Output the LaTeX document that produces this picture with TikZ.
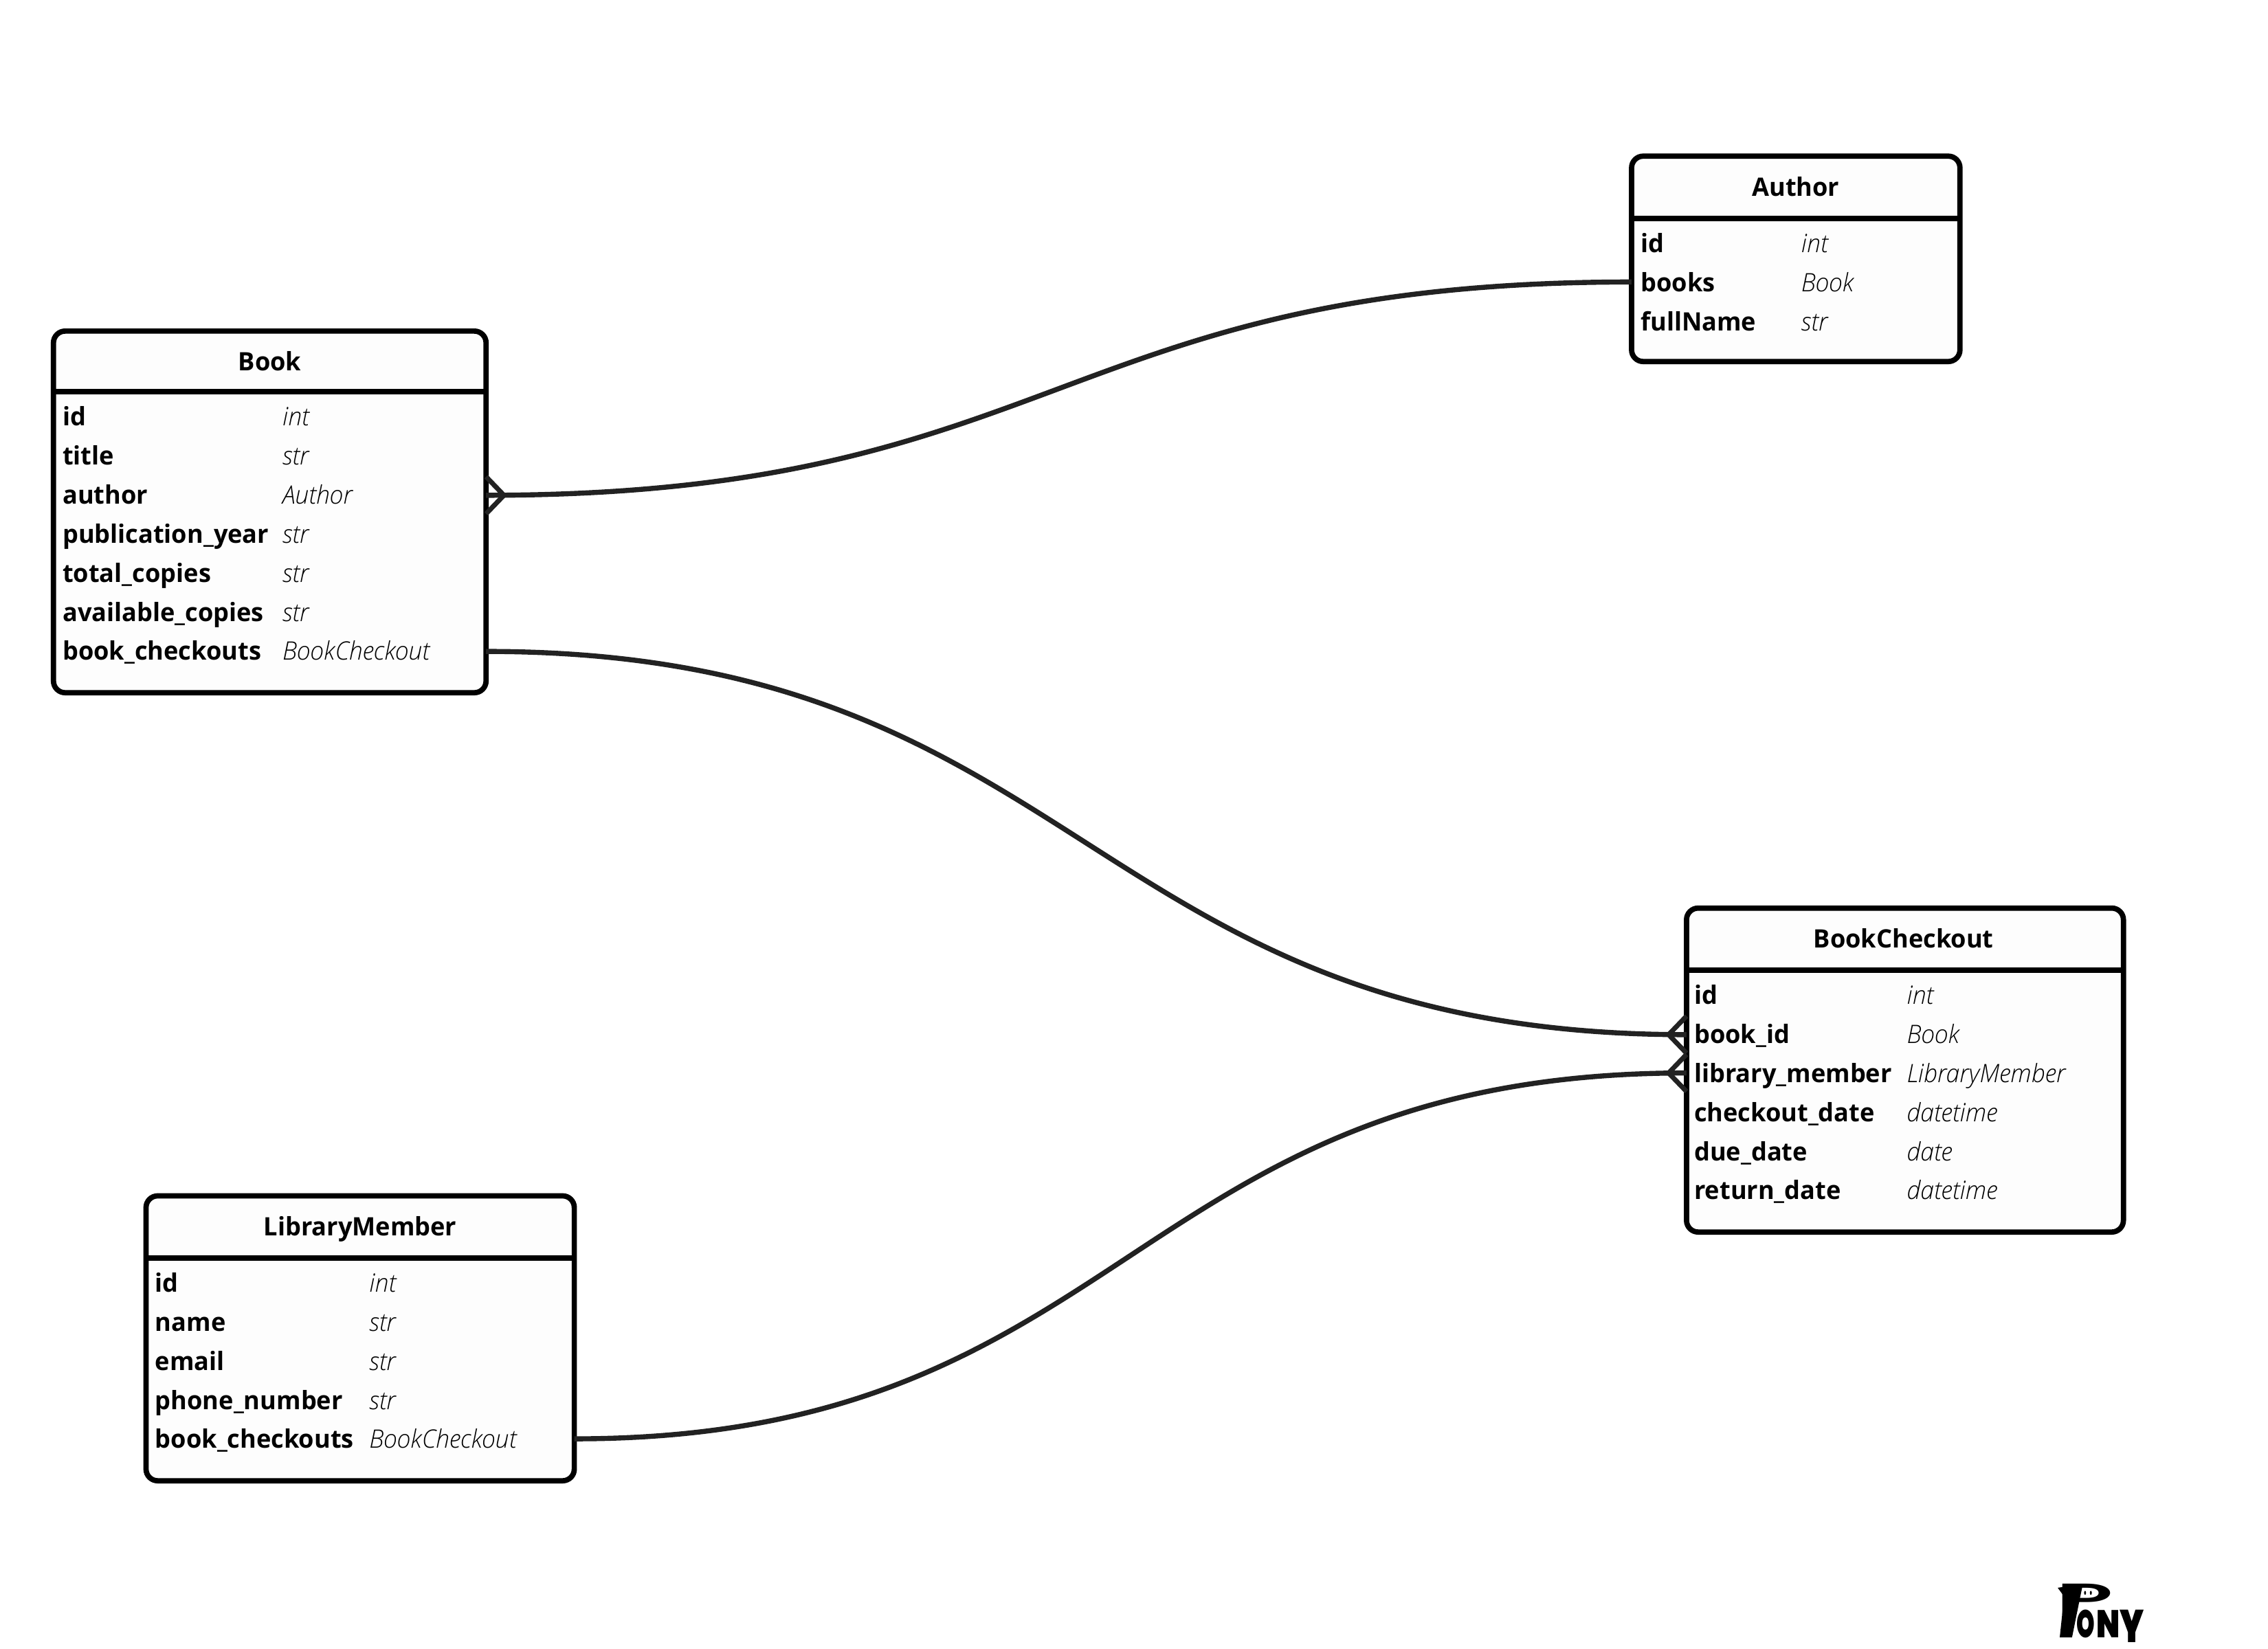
\documentclass[tikz,border=0pt]{standalone}
\usepackage{fontspec}
\setmainfont{Noto Sans}[FakeStretch=0.93]
\newfontfamily\namefont{Open Sans}[FakeStretch=0.98]
\newfontfamily\typefont{Open Sans}[UprightFont=* Light Italic,FakeStretch=0.965]
\newfontfamily\logofont{Poppins}[UprightFont=* Black,BoldFont=* Black]
\newfontfamily\logopfont{Poppins}[UprightFont=* Medium]
\definecolor{boxfill}{HTML}{FDFDFD}
\definecolor{linkcol}{HTML}{222222}
\tikzset{
  tablebox/.style={draw=black,fill=boxfill,line width=2.2pt,rounded corners=0.17cm,rectangle,inner sep=0pt,outer sep=0pt},
  headrule/.style={draw=black,line width=2.2pt},
  titletext/.style={font=\fontsize{10.5}{13}\namefont\bfseries,anchor=base,inner sep=0pt},
  fieldname/.style={font=\fontsize{10.5}{13}\namefont\bfseries,anchor=base west,inner sep=0pt,yshift=-0.012cm},
  fieldtype/.style={font=\fontsize{10.5}{13}\typefont,anchor=base west,inner sep=0pt,yshift=-0.012cm},
  link/.style={draw=linkcol,line width=2.1pt},
  crow/.style={draw=linkcol,line width=2pt},
  logoletter/.style={inner sep=0pt,anchor=base west,transform shape},
}
\begin{document}
\begin{tikzpicture}[x=0.021046cm,y=-0.021046cm]
\useasboundingbox (0,0) rectangle (1568,1140);

% boxes
\node[tablebox,minimum width=4.777cm,minimum height=2.989cm] (author) at (1241.5,179) {};
\node[tablebox,minimum width=6.293cm,minimum height=5.262cm] (book) at (186.5,354) {};
\node[tablebox,minimum width=6.356cm,minimum height=4.714cm] (checkout) at (1317,740) {};
\node[tablebox,minimum width=6.230cm,minimum height=4.146cm] (member) at (249,925.5) {};

% header rules
\draw[headrule] (author.west |- 0,151) -- (author.east |- 0,151);
\draw[headrule] (book.west |- 0,271) -- (book.east |- 0,271);
\draw[headrule] (checkout.west |- 0,671) -- (checkout.east |- 0,671);
\draw[headrule] (member.west |- 0,870) -- (member.east |- 0,870);

% Author
\node[titletext] (authortitle) at (1241.5,135.5) {Author};
\node[fieldname] (aid) at (1134,174) {id};
\node[fieldtype] (aidt) at (1245,174) {int};
\node[fieldname] (abooks) at (1134,201) {books};
\node[fieldtype] (abookst) at (1245,201) {Book};
\node[fieldname] (afull) at (1134,228) {fullName};
\node[fieldtype] (afullt) at (1245,228) {str};

% Book
\node[titletext] (booktitle) at (186.5,256.5) {Book};
\node[fieldname] (bid) at (43,294) {id};
\node[fieldtype] (bidt) at (195,294) {int};
\node[fieldname] (btitle) at (43,321) {title};
\node[fieldtype] (btitlet) at (195,321) {str};
\node[fieldname] (bauthor) at (43,348) {author};
\node[fieldtype] (bauthort) at (195,348) {Author};
\node[fieldname] (byear) at (43,375) {publication\_year};
\node[fieldtype] (byeart) at (195,375) {str};
\node[fieldname] (btotal) at (43,402) {total\_copies};
\node[fieldtype] (btotalt) at (195,402) {str};
\node[fieldname] (bavail) at (43,429) {available\_copies};
\node[fieldtype] (bavailt) at (195,429) {str};
\node[fieldname] (bcheck) at (43,456) {book\_checkouts};
\node[fieldtype] (bcheckt) at (195,456) {BookCheckout};

% BookCheckout
\node[titletext] (checktitle) at (1316,655.5) {BookCheckout};
\node[fieldname] (cid) at (1171,694) {id};
\node[fieldtype] (cidt) at (1318,694) {int};
\node[fieldname] (cbook) at (1171,721) {book\_id};
\node[fieldtype] (cbookt) at (1318,721) {Book};
\node[fieldname] (cmember) at (1171,748) {library\_member};
\node[fieldtype] (cmembert) at (1318,748) {LibraryMember};
\node[fieldname] (cdate) at (1171,775) {checkout\_date};
\node[fieldtype] (cdatet) at (1318,775) {datetime};
\node[fieldname] (cdue) at (1171,802) {due\_date};
\node[fieldtype] (cduet) at (1318,802) {date};
\node[fieldname] (creturn) at (1171,829) {return\_date};
\node[fieldtype] (creturnt) at (1318,829) {datetime};

% LibraryMember
\node[titletext] (membertitle) at (249,854.5) {LibraryMember};
\node[fieldname] (mid) at (107,893) {id};
\node[fieldtype] (midt) at (255,893) {int};
\node[fieldname] (mname) at (107,920) {name};
\node[fieldtype] (mnamet) at (255,920) {str};
\node[fieldname] (memail) at (107,947) {email};
\node[fieldtype] (memailt) at (255,947) {str};
\node[fieldname] (mphone) at (107,974) {phone\_number};
\node[fieldtype] (mphonet) at (255,974) {str};
\node[fieldname] (mcheck) at (107,1001) {book\_checkouts};
\node[fieldtype] (mcheckt) at (255,1001) {BookCheckout};

% link end points
\coordinate (la) at (book.east |- 0,342.5);
\coordinate (lb) at (author.west |- 0,195);
\coordinate (lc) at (book.east |- 0,450.5);
\coordinate (ld) at (checkout.west |- 0,715.5);
\coordinate (le) at (member.east |- 0,995);
\coordinate (lf) at (checkout.west |- 0,742);

% links
\draw[link] (la) .. controls (732,342.5) and (732,195) .. (lb);
\draw[link] (lc) .. controls (751,450.5) and (751,715.5) .. (ld);
\draw[link] (le) .. controls (781,995) and (781,742) .. (lf);

% crow's feet
\draw[crow] ([yshift=-0.27cm]la) -- ([xshift=0.26cm]la) -- ([yshift=0.27cm]la);
\draw[crow] ([yshift=-0.27cm]ld) -- ([xshift=-0.26cm]ld) -- ([yshift=0.27cm]ld);
\draw[crow] ([yshift=-0.27cm]lf) -- ([xshift=-0.26cm]lf) -- ([yshift=0.27cm]lf);

% logo
\node[logoletter,font=\logopfont\fontsize{18.5}{19}\selectfont,xscale=2.2] (logop) at (1420,1116.6) {P};
\fill (1422.6,1098) -- (1440,1095.5) -- (1438,1105) -- (1432.5,1132.3) -- (1424,1132.3) -- (1427,1104) -- cycle;
\node[logoletter,font=\logofont\fontsize{16}{16}\selectfont,xscale=0.6] (logoo) at (1435.5,1132.3) {O};
\node[logoletter,font=\logofont\fontsize{16}{16}\selectfont,xscale=0.78] (logon) at (1449,1132.3) {N};
\node[logoletter,font=\logofont\fontsize{19}{19}\selectfont,xscale=0.72] (logoy) at (1465.5,1135.6) {Y};
\fill (1441.5,1101.5) ellipse [x radius=0.7, y radius=1.4];
\fill (1445.5,1101.5) ellipse [x radius=0.7, y radius=1.4];
\end{tikzpicture}
\end{document}
